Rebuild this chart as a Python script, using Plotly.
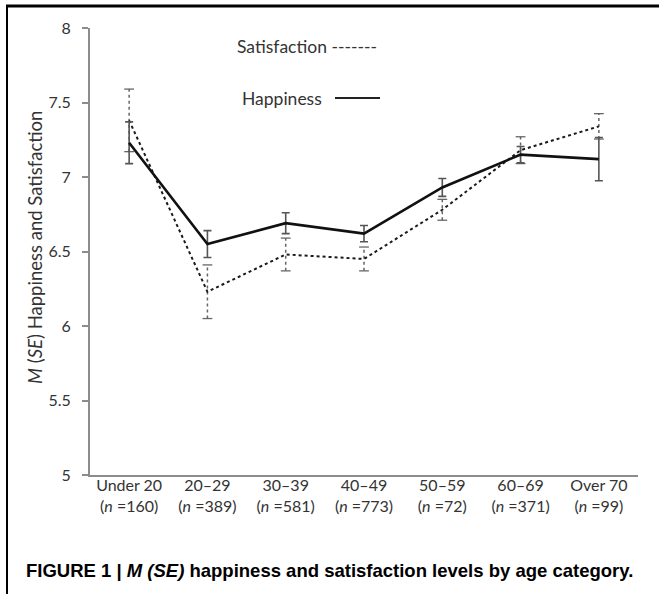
import plotly.graph_objects as go

categories = ["Under 20", "20–29", "30–39", "40–49", "50–59", "60–69", "Over 70"]
n_sizes = [160, 389, 581, 773, 72, 371, 99]
happiness = [7.23, 6.55, 6.69, 6.62, 6.93, 7.15, 7.12]
happiness_se = [0.14, 0.09, 0.07, 0.055, 0.06, 0.055, 0.145]
satisfaction = [7.38, 6.23, 6.48, 6.45, 6.78, 7.18, 7.34]
satisfaction_se = [0.21, 0.18, 0.11, 0.08, 0.07, 0.09, 0.085]
y_ticks = [5, 5.5, 6, 6.5, 7, 7.5, 8]

W, H = 659, 594
L, R, T, B = 90, 21, 28, 119
pw, ph = W - L - R, H - T - B

def px(x):
    return (x - L) / pw

def py(y):
    return (H - B - y) / ph

FONT = "Lato"
tick_text = [f"{c}<br>(<i>n</i> ={n})" for c, n in zip(categories, n_sizes)]

fig = go.Figure()

# Satisfaction error bars (dotted)
ex, ey = [], []
for c, v, s in zip(categories, satisfaction, satisfaction_se):
    ex += [c, c, None]
    ey += [v - s, v + s, None]
fig.add_trace(go.Scatter(x=ex, y=ey, mode="lines",
                         line=dict(color="#666666", width=1.5, dash="dot"),
                         hoverinfo="skip", showlegend=False))
cx, cy = [], []
for c, v, s in zip(categories, satisfaction, satisfaction_se):
    cx += [c, c]
    cy += [v - s, v + s]
fig.add_trace(go.Scatter(x=cx, y=cy, mode="markers",
                         marker=dict(symbol="line-ew", size=7,
                                     line=dict(color="#666666", width=1.3)),
                         hoverinfo="skip", showlegend=False))

fig.add_trace(go.Scatter(x=categories, y=satisfaction, mode="lines",
                         name="Satisfaction",
                         line=dict(color="#1a1a1a", width=2, dash="dot"),
                         showlegend=False))

fig.add_trace(go.Scatter(x=categories, y=happiness, mode="lines",
                         name="Happiness",
                         line=dict(color="#111111", width=2.6),
                         error_y=dict(type="data", array=happiness_se, visible=True,
                                      color="#555555", thickness=1.6, width=4),
                         showlegend=False))

fig.update_layout(
    width=W, height=H,
    margin=dict(l=L, r=R, t=T, b=B),
    paper_bgcolor="white", plot_bgcolor="white",
    font=dict(family=FONT, size=15, color="#333333"),
    showlegend=False,
    xaxis=dict(type="category", categoryorder="array", categoryarray=categories,
               range=[-0.5, 6.5], tickvals=categories, ticktext=tick_text,
               showline=True, linecolor="#8c8c8c", linewidth=2,
               ticks="", showgrid=False, zeroline=False,
               ticklabelstandoff=-5,
               tickfont=dict(family=FONT, size=16, color="#333333")),
    yaxis=dict(range=[5, 8], tickvals=y_ticks,
               ticktext=[f"{v:g}" for v in y_ticks],
               showline=True, linecolor="#8c8c8c", linewidth=2,
               ticks="outside", ticklen=6, tickcolor="#8c8c8c", tickwidth=1.5,
               ticklabelstandoff=8,
               showgrid=False, zeroline=False,
               tickfont=dict(family=FONT, size=16, color="#333333")),
)

annotations = [
    dict(text="<i>M</i> (<i>SE</i>) Happiness and Satisfaction", textangle=-90,
         x=px(35), y=py(248), xref="paper", yref="paper",
         xanchor="center", yanchor="middle", showarrow=False,
         font=dict(family=FONT, size=18.5, color="#333333")),
    dict(text="Satisfaction -------", x=px(235), y=py(46), xref="paper", yref="paper",
         xanchor="left", yanchor="middle", showarrow=False,
         font=dict(family=FONT, size=17.5, color="#333333")),
    dict(text="Happiness", x=px(240), y=py(99), xref="paper", yref="paper",
         xanchor="left", yanchor="middle", showarrow=False,
         font=dict(family=FONT, size=17.5, color="#333333")),
    dict(text="<b>FIGURE 1 | <i>M (SE)</i> happiness and satisfaction levels by age category.</b>",
         x=px(24), y=py(570), xref="paper", yref="paper",
         xanchor="left", yanchor="middle", showarrow=False,
         font=dict(family="Liberation Sans", size=18.5, color="black")),
]
fig.update_layout(annotations=annotations)

shapes = [
    dict(type="line", xref="paper", yref="paper", x0=px(335), x1=px(380),
         y0=py(98), y1=py(98), line=dict(color="#222222", width=2)),
    dict(type="line", xref="paper", yref="paper", x0=px(6), x1=px(659),
         y0=py(6), y1=py(6), line=dict(color="black", width=3)),
    dict(type="line", xref="paper", yref="paper", x0=px(7), x1=px(7),
         y0=py(5), y1=py(594), line=dict(color="black", width=2)),
]
fig.update_layout(shapes=shapes)

fig.write_html("out.html", config={"displayModeBar": False},
               post_script="document.body.style.margin='0';document.body.style.padding='0';")
